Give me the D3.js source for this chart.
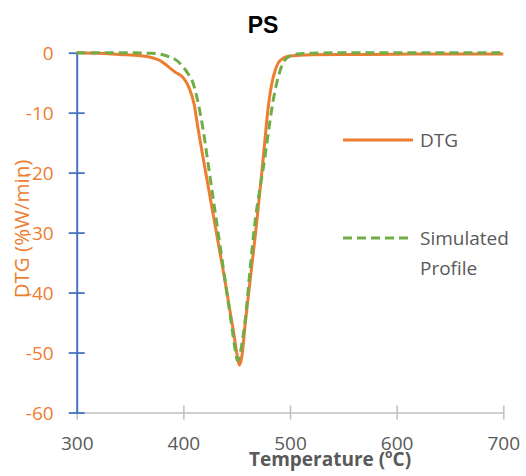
<!DOCTYPE html>
<html>
<head>
<meta charset="utf-8">
<script src="https://cdn.jsdelivr.net/npm/d3@7"></script>
<style>
  html, body { margin: 0; padding: 0; background: #fff; }
  svg { display: block; }
</style>
</head>
<body>
<script>
// Measured DTG curve for PS (temperature in °C, rate in %W/min)
const dtgTemp = [300, 320, 340, 360, 370, 378, 385, 392, 400, 405, 410, 414, 418, 423, 427, 431, 435, 439, 443, 447, 450, 452.5, 455, 458, 461, 464, 467, 470, 473.5, 476, 478, 480, 483, 486, 489, 494, 500, 520, 560, 600, 650, 700];
const dtgValue = [0, -0.1, -0.3, -0.5, -0.8, -1.3, -2.2, -3.2, -4.2, -5.7, -8.5, -12.9, -17.0, -22.0, -26.0, -30.0, -34.0, -38.0, -42.3, -46.5, -50.0, -52.1, -50.5, -45.2, -40.5, -35.8, -31.2, -26.2, -20.1, -15.5, -11.7, -8.5, -5.1, -3.0, -1.7, -0.9, -0.55, -0.35, -0.3, -0.25, -0.2, -0.2];

// Simulated profile
const simTemp = [300, 340, 370, 380, 387, 393, 399, 404, 409, 414, 418.6, 422, 426, 430, 434, 438, 442, 446, 449, 450.5, 452, 455, 458, 462.5, 467, 471, 474.7, 478, 481, 484, 487.5, 490, 493.5, 497, 500, 505, 520, 560, 600, 650, 700];
const simValue = [0, 0, -0.1, -0.3, -0.7, -1.2, -2.2, -3.4, -5.0, -8.5, -12.9, -17.0, -21.9, -26.8, -31.7, -36.6, -41.5, -46.4, -50.0, -51.3, -51.0, -48.5, -44.6, -36.3, -28.5, -23.5, -19.5, -15.5, -11.7, -8.2, -5.1, -3.4, -1.7, -0.9, -0.55, -0.25, -0.1, 0, 0, 0, 0];

const xTicks = [300, 400, 500, 600, 700];
const yTicks = [0, -10, -20, -30, -40, -50, -60];
const seriesNames = ["DTG", "Simulated", "Profile"];

const W = 526, H = 476;
const orange = "#ed7d31", green = "#70ad47", blue = "#4472c4", grid = "#bfbfbf", textGray = "#595959";
const font = "'Open Sans', 'Noto Sans', sans-serif";

const svg = d3.select("body").append("svg").attr("width", W).attr("height", H);

const x = d3.scaleLinear().domain([300, 700]).range([76.7, 503.3]);
const y = d3.scaleLinear().domain([-60, 0]).range([412.5, 52.7]);

// Title
svg.append("text").attr("x", 263).attr("y", 33).attr("text-anchor", "middle")
  .attr("font-family", "'Liberation Sans', Arial, sans-serif").attr("font-weight", "bold")
  .attr("font-size", 23).attr("fill", "#000").text("PS");

// X axis (bottom, grey, ticks crossing the line)
const xAxis = svg.append("g").attr("transform", `translate(0,${y(-60)})`)
  .call(d3.axisBottom(x).tickValues(xTicks).tickSize(0).tickFormat(d => String(d)));
xAxis.select(".domain").attr("stroke", grid).attr("stroke-width", 1.5);
xAxis.selectAll(".tick").append("line").attr("y1", -7).attr("y2", 7)
  .attr("stroke", grid).attr("stroke-width", 1.5);
xAxis.selectAll(".tick text").attr("y", 0).attr("dy", 37)
  .attr("font-family", font).attr("font-size", 19).attr("fill", textGray);

// Y axis (left, blue, orange labels)
const yAxis = svg.append("g").attr("transform", `translate(${x(300)},0)`)
  .call(d3.axisLeft(y).tickValues(yTicks).tickSize(0).tickFormat(d => String(d)));
yAxis.select(".domain").attr("stroke", blue).attr("stroke-width", 2);
yAxis.selectAll(".tick").append("line").attr("x1", -8).attr("x2", 8)
  .attr("stroke", blue).attr("stroke-width", 1.8);
yAxis.selectAll(".tick text").attr("x", -23).attr("dy", "0.35em")
  .attr("font-family", font).attr("font-size", 19).attr("fill", orange);

// Axis titles
svg.append("text").attr("x", 330).attr("y", 466).attr("text-anchor", "middle")
  .attr("font-family", font).attr("font-weight", "bold").attr("font-size", 19).attr("fill", textGray)
  .call(t => {
    t.append("tspan").text("Temperature (");
    t.append("tspan").attr("font-size", 12).attr("dy", -8).text("o");
    t.append("tspan").attr("dy", 8).text("C)");
  });

svg.append("text").attr("transform", "translate(29,229) rotate(-90)").attr("text-anchor", "middle")
  .attr("font-family", font).attr("font-size", 20.5).attr("fill", orange).text("DTG (%W/min)");

// Curves
const line = d3.line().x(d => x(d[0])).y(d => y(d[1])).curve(d3.curveMonotoneX);
const dtgData = dtgTemp.map((t, i) => [t, dtgValue[i]]);
const simData = simTemp.map((t, i) => [t, simValue[i]]);

svg.append("path").datum(dtgData).attr("d", line).attr("fill", "none")
  .attr("stroke", orange).attr("stroke-width", 3).attr("stroke-linejoin", "round");
svg.append("path").datum(simData).attr("d", line).attr("fill", "none")
  .attr("stroke", green).attr("stroke-width", 3).attr("stroke-dasharray", "9,5");

// Legend
const lg = svg.append("g");
lg.append("line").attr("x1", 343).attr("x2", 413).attr("y1", 140).attr("y2", 140)
  .attr("stroke", orange).attr("stroke-width", 3);
lg.append("text").attr("x", 420).attr("y", 147).attr("font-family", font).attr("font-size", 19)
  .attr("fill", textGray).text(seriesNames[0]);
lg.append("line").attr("x1", 343).attr("x2", 413).attr("y1", 238).attr("y2", 238)
  .attr("stroke", green).attr("stroke-width", 3).attr("stroke-dasharray", "9,5");
lg.append("text").attr("x", 420).attr("y", 245).attr("font-family", font).attr("font-size", 19)
  .attr("fill", textGray).text(seriesNames[1]);
lg.append("text").attr("x", 420).attr("y", 275).attr("font-family", font).attr("font-size", 19)
  .attr("fill", textGray).text(seriesNames[2]);
</script>
</body>
</html>
